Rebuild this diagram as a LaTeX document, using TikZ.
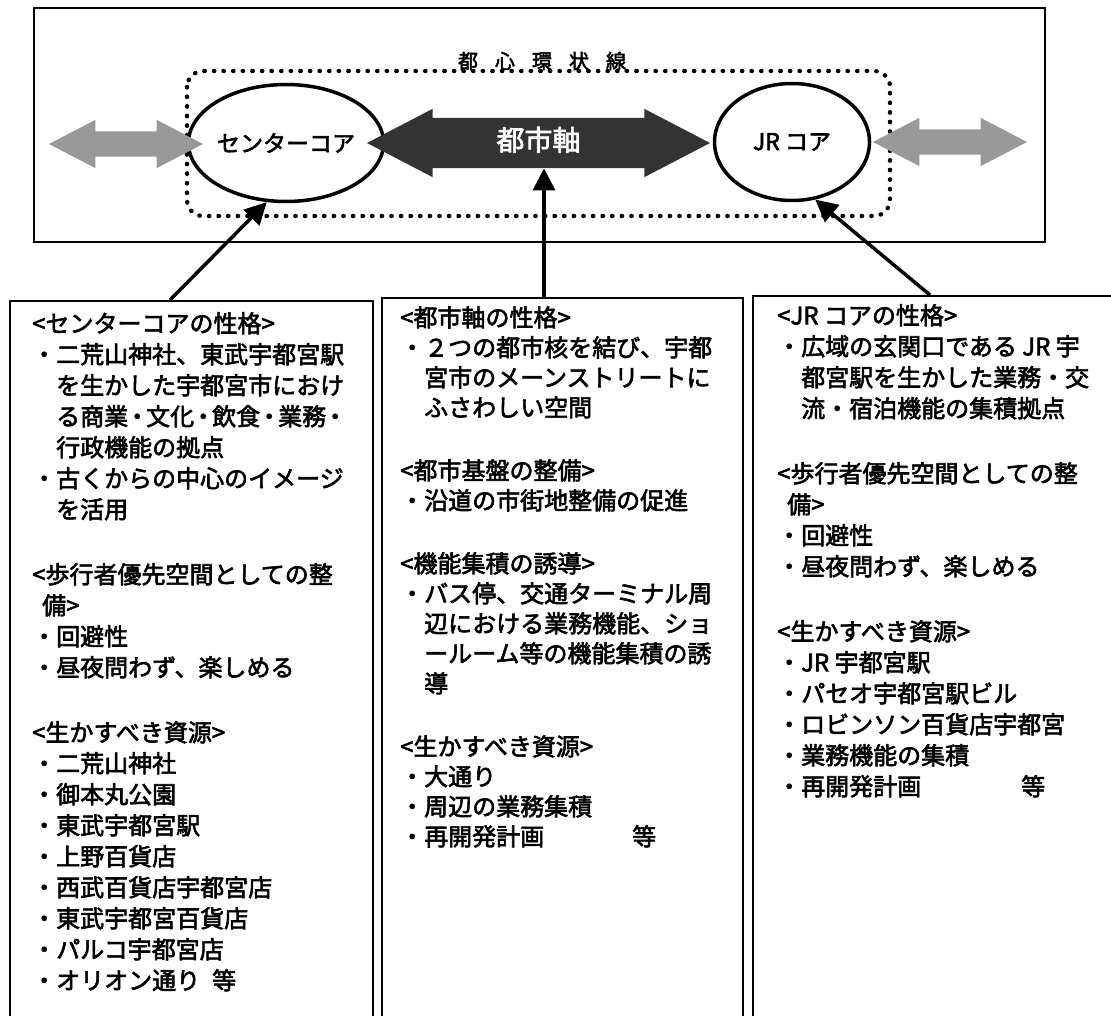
\documentclass[tikz,border=0pt]{standalone}
\usepackage{fontspec}
\setmainfont{Noto Sans CJK JP}[FakeBold=2.5]
\usetikzlibrary{shapes, arrows.meta, positioning}
\newcommand{\nkg}{\kern-3pt・\kern-3pt}
\tikzstyle{core} = [draw, ellipse, line width=3.5pt, minimum width=155pt, minimum height=117pt, inner sep=0pt, font=\fontsize{23}{28}\selectfont]
\tikzstyle{ringline} = [line width=4.4pt, dash pattern=on 0.4pt off 9.2pt, line cap=round, rounded corners=16pt]
\tikzstyle{axisarrow} = [double arrow, fill=black!80, text=white, inner xsep=0pt, inner ysep=12.5pt, text height=20pt, text depth=5pt, minimum height=343pt, double arrow head extend=9pt, double arrow tip angle=55, font=\fontsize{28}{32}\selectfont]
\tikzstyle{sidearrow} = [double arrow, fill=black!40, inner xsep=0pt, inner ysep=12.5pt, text height=0pt, text depth=0pt, minimum height=154pt, double arrow head extend=11.5pt, double arrow tip angle=55]
\tikzstyle{column} = [draw, line width=1.6pt, rectangle, minimum height=760pt, inner sep=0pt, anchor=north west]
\tikzstyle{coltext} = [align=left, inner sep=0pt, font=\fontsize{24}{31}\selectfont]
\tikzstyle{link} = [line width=3.5pt, -{Triangle[length=22pt,width=22pt]}]

\begin{document}
\begin{tikzpicture}[x=1pt,y=-1pt]
	\useasboundingbox (0,0) rectangle (1111,1016);
	\clip (0,0) rectangle (1111,1016);
	% upper frame
	\draw[line width=1.3pt] (34,8) rectangle (1045,242);
	\draw[ringline] (187,71) rectangle (890,216);
	\node[font=\fontsize{20}{24}\selectfont] (ringlabel) at (542,61) {都\hspace{17pt}心\hspace{17pt}環\hspace{17pt}状\hspace{17pt}線};
	\node[core] (center) at (286,143) {センターコア};
	\node[core] (jr) at (792,142) {JR コア};
	\node[axisarrow] (axis) at (538.5,143) {都市軸};
	\node[sidearrow] (lside) at (126,144) {};
	\node[sidearrow] (rside) at (950,142) {};
	% columns
	\node[column, minimum width=363pt] (lbox) at (9,300) {};
	\node[column, minimum width=361pt] (mbox) at (381,297) {};
	\node[column, minimum width=400pt] (rbox) at (752,295) {};
	\node[coltext, below right=12pt and 23pt of lbox.north west] (ltext) {%
		<センターコアの性格>\\
		・二荒山神社、東武宇都宮駅\\
		　を生かした宇都宮市におけ\\
		　る商業\nkg 文化\nkg 飲食\nkg 業務\nkg\\
		　行政機能の拠点\\
		・古くからの中心のイメージ\\
		　を活用\\[34pt]
		<歩行者優先空間としての整\\
		\hspace*{10pt}備>\\
		・回避性\\
		・昼夜問わず、楽しめる\\[34pt]
		<生かすべき資源>\\
		・二荒山神社\\
		・御本丸公園\\
		・東武宇都宮駅\\
		・上野百貨店\\
		・西武百貨店宇都宮店\\
		・東武宇都宮百貨店\\
		・パルコ宇都宮店\\
		・オリオン通り\hspace*{12pt}等};
	\node[coltext, font=\fontsize{24}{30}\selectfont, below right=9pt and 19pt of mbox.north west] (mtext) {%
		<都市軸の性格>\\
		・２つの都市核を結び、宇都\\
		　宮市のメーンストリートに\\
		　ふさわしい空間\\[33pt]
		<都市基盤の整備>\\
		・沿道の市街地整備の促進\\[33pt]
		<機能集積の誘導>\\
		・バス停、交通ターミナル周\\
		　辺における業務機能、ショ\\
		　ールーム等の機能集積の誘\\
		　導\\[33pt]
		<生かすべき資源>\\
		・大通り\\
		・周辺の業務集積\\
		・再開発計画\hspace*{88pt}等};
	\node[coltext, below right=9pt and 25pt of rbox.north west] (rtext) {%
		<JR コアの性格>\\
		・広域の玄関口である JR 宇\\
		　都宮駅を生かした業務・交\\
		　流・宿泊機能の集積拠点\\[34pt]
		<歩行者優先空間としての整\\
		\hspace*{10pt}備>\\
		・回避性\\
		・昼夜問わず、楽しめる\\[34pt]
		<生かすべき資源>\\
		・JR 宇都宮駅\\
		・パセオ宇都宮駅ビル\\
		・ロビンソン百貨店宇都宮\\
		・業務機能の集積\\
		・再開発計画\hspace*{100pt}等};
	% connectors
	\coordinate (lfoot) at (170,300);
	\coordinate (mfoot) at (544,297);
	\coordinate (rfoot) at (930,295);
	\draw[link] (lfoot) -- (center.-108);
	\draw[link] (mfoot) -- (mfoot |- axis.south);
	\draw[link] (rfoot) -- (jr.-68);
\end{tikzpicture}
\end{document}
